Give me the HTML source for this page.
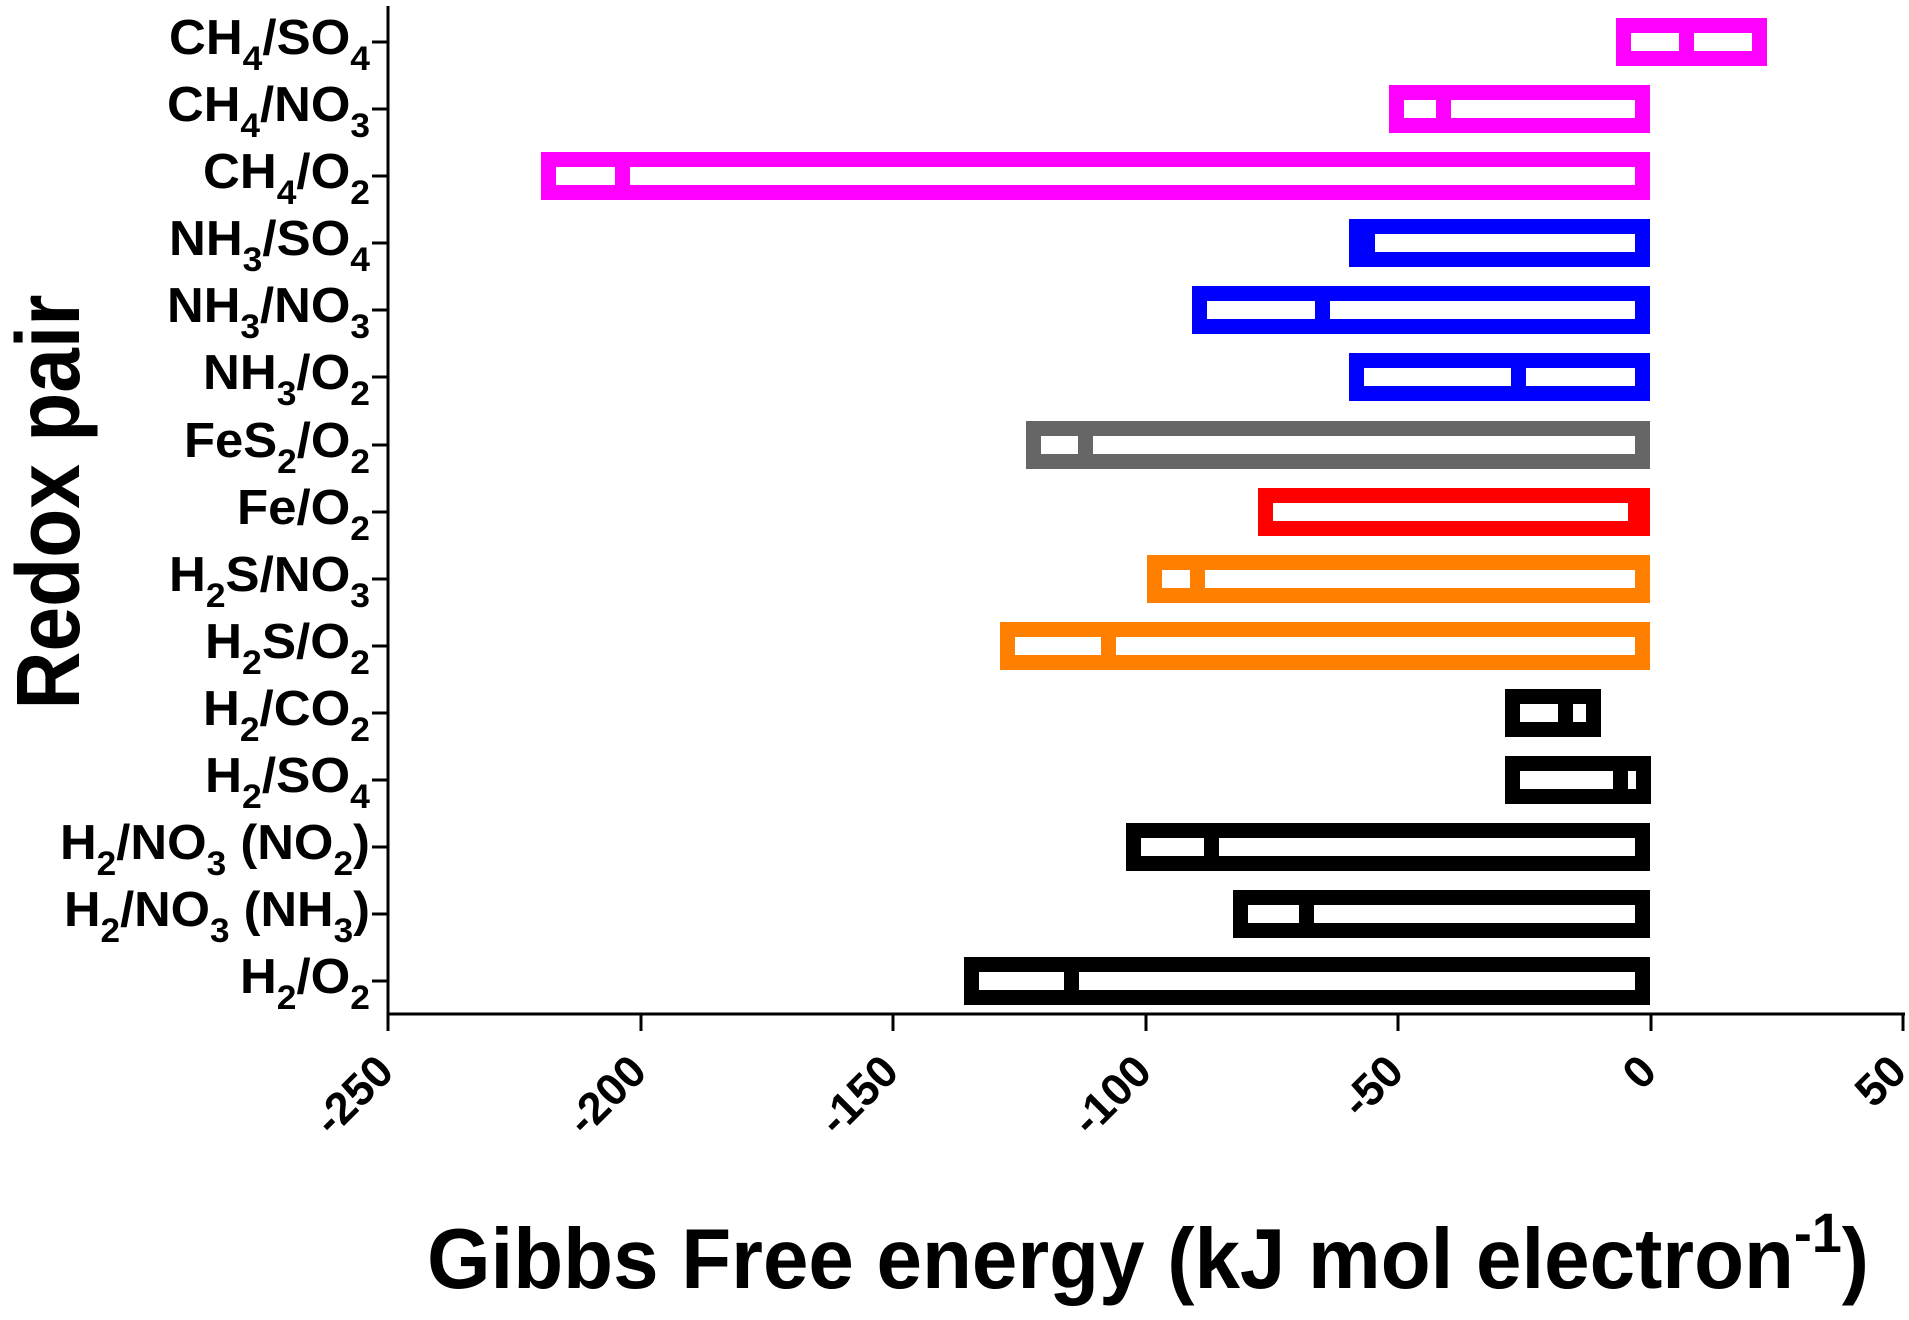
<!DOCTYPE html>
<html><head><meta charset="utf-8"><style>
html,body{margin:0;padding:0;background:#fff;}
svg{display:block;}
text{font-family:"Liberation Sans",Arial,sans-serif;font-weight:bold;fill:#000;}
</style></head><body>
<svg width="1909" height="1320" viewBox="0 0 1909 1320" xmlns="http://www.w3.org/2000/svg">
<!-- axes -->
<line x1="388" y1="6" x2="388" y2="1015" stroke="#000" stroke-width="3"/>
<line x1="387" y1="1014" x2="1905" y2="1014" stroke="#000" stroke-width="3"/>
<g stroke="#000" stroke-width="3">
<line x1="388" y1="1014" x2="388" y2="1031"/>
<line x1="641" y1="1014" x2="641" y2="1031"/>
<line x1="893" y1="1014" x2="893" y2="1031"/>
<line x1="1146" y1="1014" x2="1146" y2="1031"/>
<line x1="1398" y1="1014" x2="1398" y2="1031"/>
<line x1="1651" y1="1014" x2="1651" y2="1031"/>
<line x1="1903" y1="1014" x2="1903" y2="1031"/>
</g>
<g font-size="45" text-anchor="end">
<text transform="translate(396,1074) rotate(-45)">-250</text>
<text transform="translate(649,1074) rotate(-45)">-200</text>
<text transform="translate(901,1074) rotate(-45)">-150</text>
<text transform="translate(1154,1074) rotate(-45)">-100</text>
<text transform="translate(1406,1074) rotate(-45)">-50</text>
<text transform="translate(1659,1074) rotate(-45)">0</text>
<text transform="translate(1909,1074) rotate(-45)">50</text>
</g>
<!-- y ticks -->
<g stroke="#000" stroke-width="3">
<line x1="372" y1="42" x2="388" y2="42"/>
<line x1="372" y1="109" x2="388" y2="109"/>
<line x1="372" y1="176" x2="388" y2="176"/>
<line x1="372" y1="243" x2="388" y2="243"/>
<line x1="372" y1="310" x2="388" y2="310"/>
<line x1="372" y1="377" x2="388" y2="377"/>
<line x1="372" y1="445" x2="388" y2="445"/>
<line x1="372" y1="512" x2="388" y2="512"/>
<line x1="372" y1="579" x2="388" y2="579"/>
<line x1="372" y1="646" x2="388" y2="646"/>
<line x1="372" y1="713" x2="388" y2="713"/>
<line x1="372" y1="780" x2="388" y2="780"/>
<line x1="372" y1="847" x2="388" y2="847"/>
<line x1="372" y1="914" x2="388" y2="914"/>
<line x1="372" y1="981" x2="388" y2="981"/>
</g>
<!-- labels -->
<g font-size="49" text-anchor="end" lengthAdjust="spacingAndGlyphs">
<text x="370" y="54" textLength="201" lengthAdjust="spacingAndGlyphs">CH<tspan font-size="34" dy="16">4</tspan><tspan dy="-16">/SO</tspan><tspan font-size="34" dy="16">4</tspan></text>
<text x="370" y="121" textLength="203" lengthAdjust="spacingAndGlyphs">CH<tspan font-size="34" dy="16">4</tspan><tspan dy="-16">/NO</tspan><tspan font-size="34" dy="16">3</tspan></text>
<text x="370" y="188" textLength="167" lengthAdjust="spacingAndGlyphs">CH<tspan font-size="34" dy="16">4</tspan><tspan dy="-16">/O</tspan><tspan font-size="34" dy="16">2</tspan></text>
<text x="370" y="255" textLength="201" lengthAdjust="spacingAndGlyphs">NH<tspan font-size="34" dy="16">3</tspan><tspan dy="-16">/SO</tspan><tspan font-size="34" dy="16">4</tspan></text>
<text x="370" y="322" textLength="203" lengthAdjust="spacingAndGlyphs">NH<tspan font-size="34" dy="16">3</tspan><tspan dy="-16">/NO</tspan><tspan font-size="34" dy="16">3</tspan></text>
<text x="370" y="389" textLength="167" lengthAdjust="spacingAndGlyphs">NH<tspan font-size="34" dy="16">3</tspan><tspan dy="-16">/O</tspan><tspan font-size="34" dy="16">2</tspan></text>
<text x="370" y="457" textLength="186" lengthAdjust="spacingAndGlyphs">FeS<tspan font-size="34" dy="16">2</tspan><tspan dy="-16">/O</tspan><tspan font-size="34" dy="16">2</tspan></text>
<text x="370" y="524" textLength="133" lengthAdjust="spacingAndGlyphs">Fe/O<tspan font-size="34" dy="16">2</tspan></text>
<text x="370" y="591" textLength="201" lengthAdjust="spacingAndGlyphs">H<tspan font-size="34" dy="16">2</tspan><tspan dy="-16">S/NO</tspan><tspan font-size="34" dy="16">3</tspan></text>
<text x="370" y="658" textLength="165" lengthAdjust="spacingAndGlyphs">H<tspan font-size="34" dy="16">2</tspan><tspan dy="-16">S/O</tspan><tspan font-size="34" dy="16">2</tspan></text>
<text x="370" y="725" textLength="167" lengthAdjust="spacingAndGlyphs">H<tspan font-size="34" dy="16">2</tspan><tspan dy="-16">/CO</tspan><tspan font-size="34" dy="16">2</tspan></text>
<text x="370" y="792" textLength="165" lengthAdjust="spacingAndGlyphs">H<tspan font-size="34" dy="16">2</tspan><tspan dy="-16">/SO</tspan><tspan font-size="34" dy="16">4</tspan></text>
<text x="370" y="859" textLength="310" lengthAdjust="spacingAndGlyphs">H<tspan font-size="34" dy="16">2</tspan><tspan dy="-16">/NO</tspan><tspan font-size="34" dy="16">3</tspan><tspan dy="-16"> (NO</tspan><tspan font-size="34" dy="16">2</tspan><tspan dy="-16">)</tspan></text>
<text x="370" y="926" textLength="306" lengthAdjust="spacingAndGlyphs">H<tspan font-size="34" dy="16">2</tspan><tspan dy="-16">/NO</tspan><tspan font-size="34" dy="16">3</tspan><tspan dy="-16"> (NH</tspan><tspan font-size="34" dy="16">3</tspan><tspan dy="-16">)</tspan></text>
<text x="370" y="993" textLength="130" lengthAdjust="spacingAndGlyphs">H<tspan font-size="34" dy="16">2</tspan><tspan dy="-16">/O</tspan><tspan font-size="34" dy="16">2</tspan></text>
</g>
<!-- boxes: outer height 48, border 15 -->
<g fill="none" stroke-width="15">
<rect x="1623.5" y="25.5" width="136" height="33" stroke="#ff00ff"/>
<rect x="1396.5" y="92.5" width="246" height="33" stroke="#ff00ff"/>
<rect x="548.5" y="159.5" width="1094" height="33" stroke="#ff00ff"/>
<rect x="1356.5" y="226.5" width="286" height="33" stroke="#0000ff"/>
<rect x="1199.5" y="293.5" width="443" height="33" stroke="#0000ff"/>
<rect x="1356.5" y="360.5" width="286" height="33" stroke="#0000ff"/>
<rect x="1033.5" y="428.5" width="609" height="33" stroke="#666666"/>
<rect x="1265.5" y="495.5" width="377" height="33" stroke="#ff0000"/>
<rect x="1154.5" y="562.5" width="488" height="33" stroke="#ff8000"/>
<rect x="1007.5" y="629.5" width="635" height="33" stroke="#ff8000"/>
<rect x="1512.5" y="696.5" width="81" height="33" stroke="#000"/>
<rect x="1512.5" y="763.5" width="131" height="33" stroke="#000"/>
<rect x="1133.5" y="830.5" width="509" height="33" stroke="#000"/>
<rect x="1240.5" y="897.5" width="402" height="33" stroke="#000"/>
<rect x="971.5" y="964.5" width="671" height="33" stroke="#000"/>
</g>
<!-- dividers -->
<g>
<rect x="1679" y="18" width="15" height="48" fill="#ff00ff"/>
<rect x="1436" y="85" width="15" height="48" fill="#ff00ff"/>
<rect x="615" y="152" width="15" height="48" fill="#ff00ff"/>
<rect x="1360" y="219" width="15" height="48" fill="#0000ff"/>
<rect x="1315" y="286" width="15" height="48" fill="#0000ff"/>
<rect x="1511" y="353" width="15" height="48" fill="#0000ff"/>
<rect x="1078" y="421" width="15" height="48" fill="#666666"/>
<rect x="1628" y="488" width="15" height="48" fill="#ff0000"/>
<rect x="1190" y="555" width="15" height="48" fill="#ff8000"/>
<rect x="1101" y="622" width="15" height="48" fill="#ff8000"/>
<rect x="1558" y="689" width="15" height="48" fill="#000"/>
<rect x="1613" y="756" width="15" height="48" fill="#000"/>
<rect x="1204" y="823" width="15" height="48" fill="#000"/>
<rect x="1299" y="890" width="15" height="48" fill="#000"/>
<rect x="1064" y="957" width="15" height="48" fill="#000"/>
</g>
<!-- axis titles -->
<text transform="translate(79,502) rotate(-90)" font-size="90" text-anchor="middle" textLength="415" lengthAdjust="spacingAndGlyphs">Redox pair</text>
<text x="427" y="1288" font-size="85" textLength="1442" lengthAdjust="spacingAndGlyphs">Gibbs Free energy (kJ mol electron<tspan font-size="56" dy="-36">-1</tspan><tspan dy="36">)</tspan></text>
</svg>
</body></html>
